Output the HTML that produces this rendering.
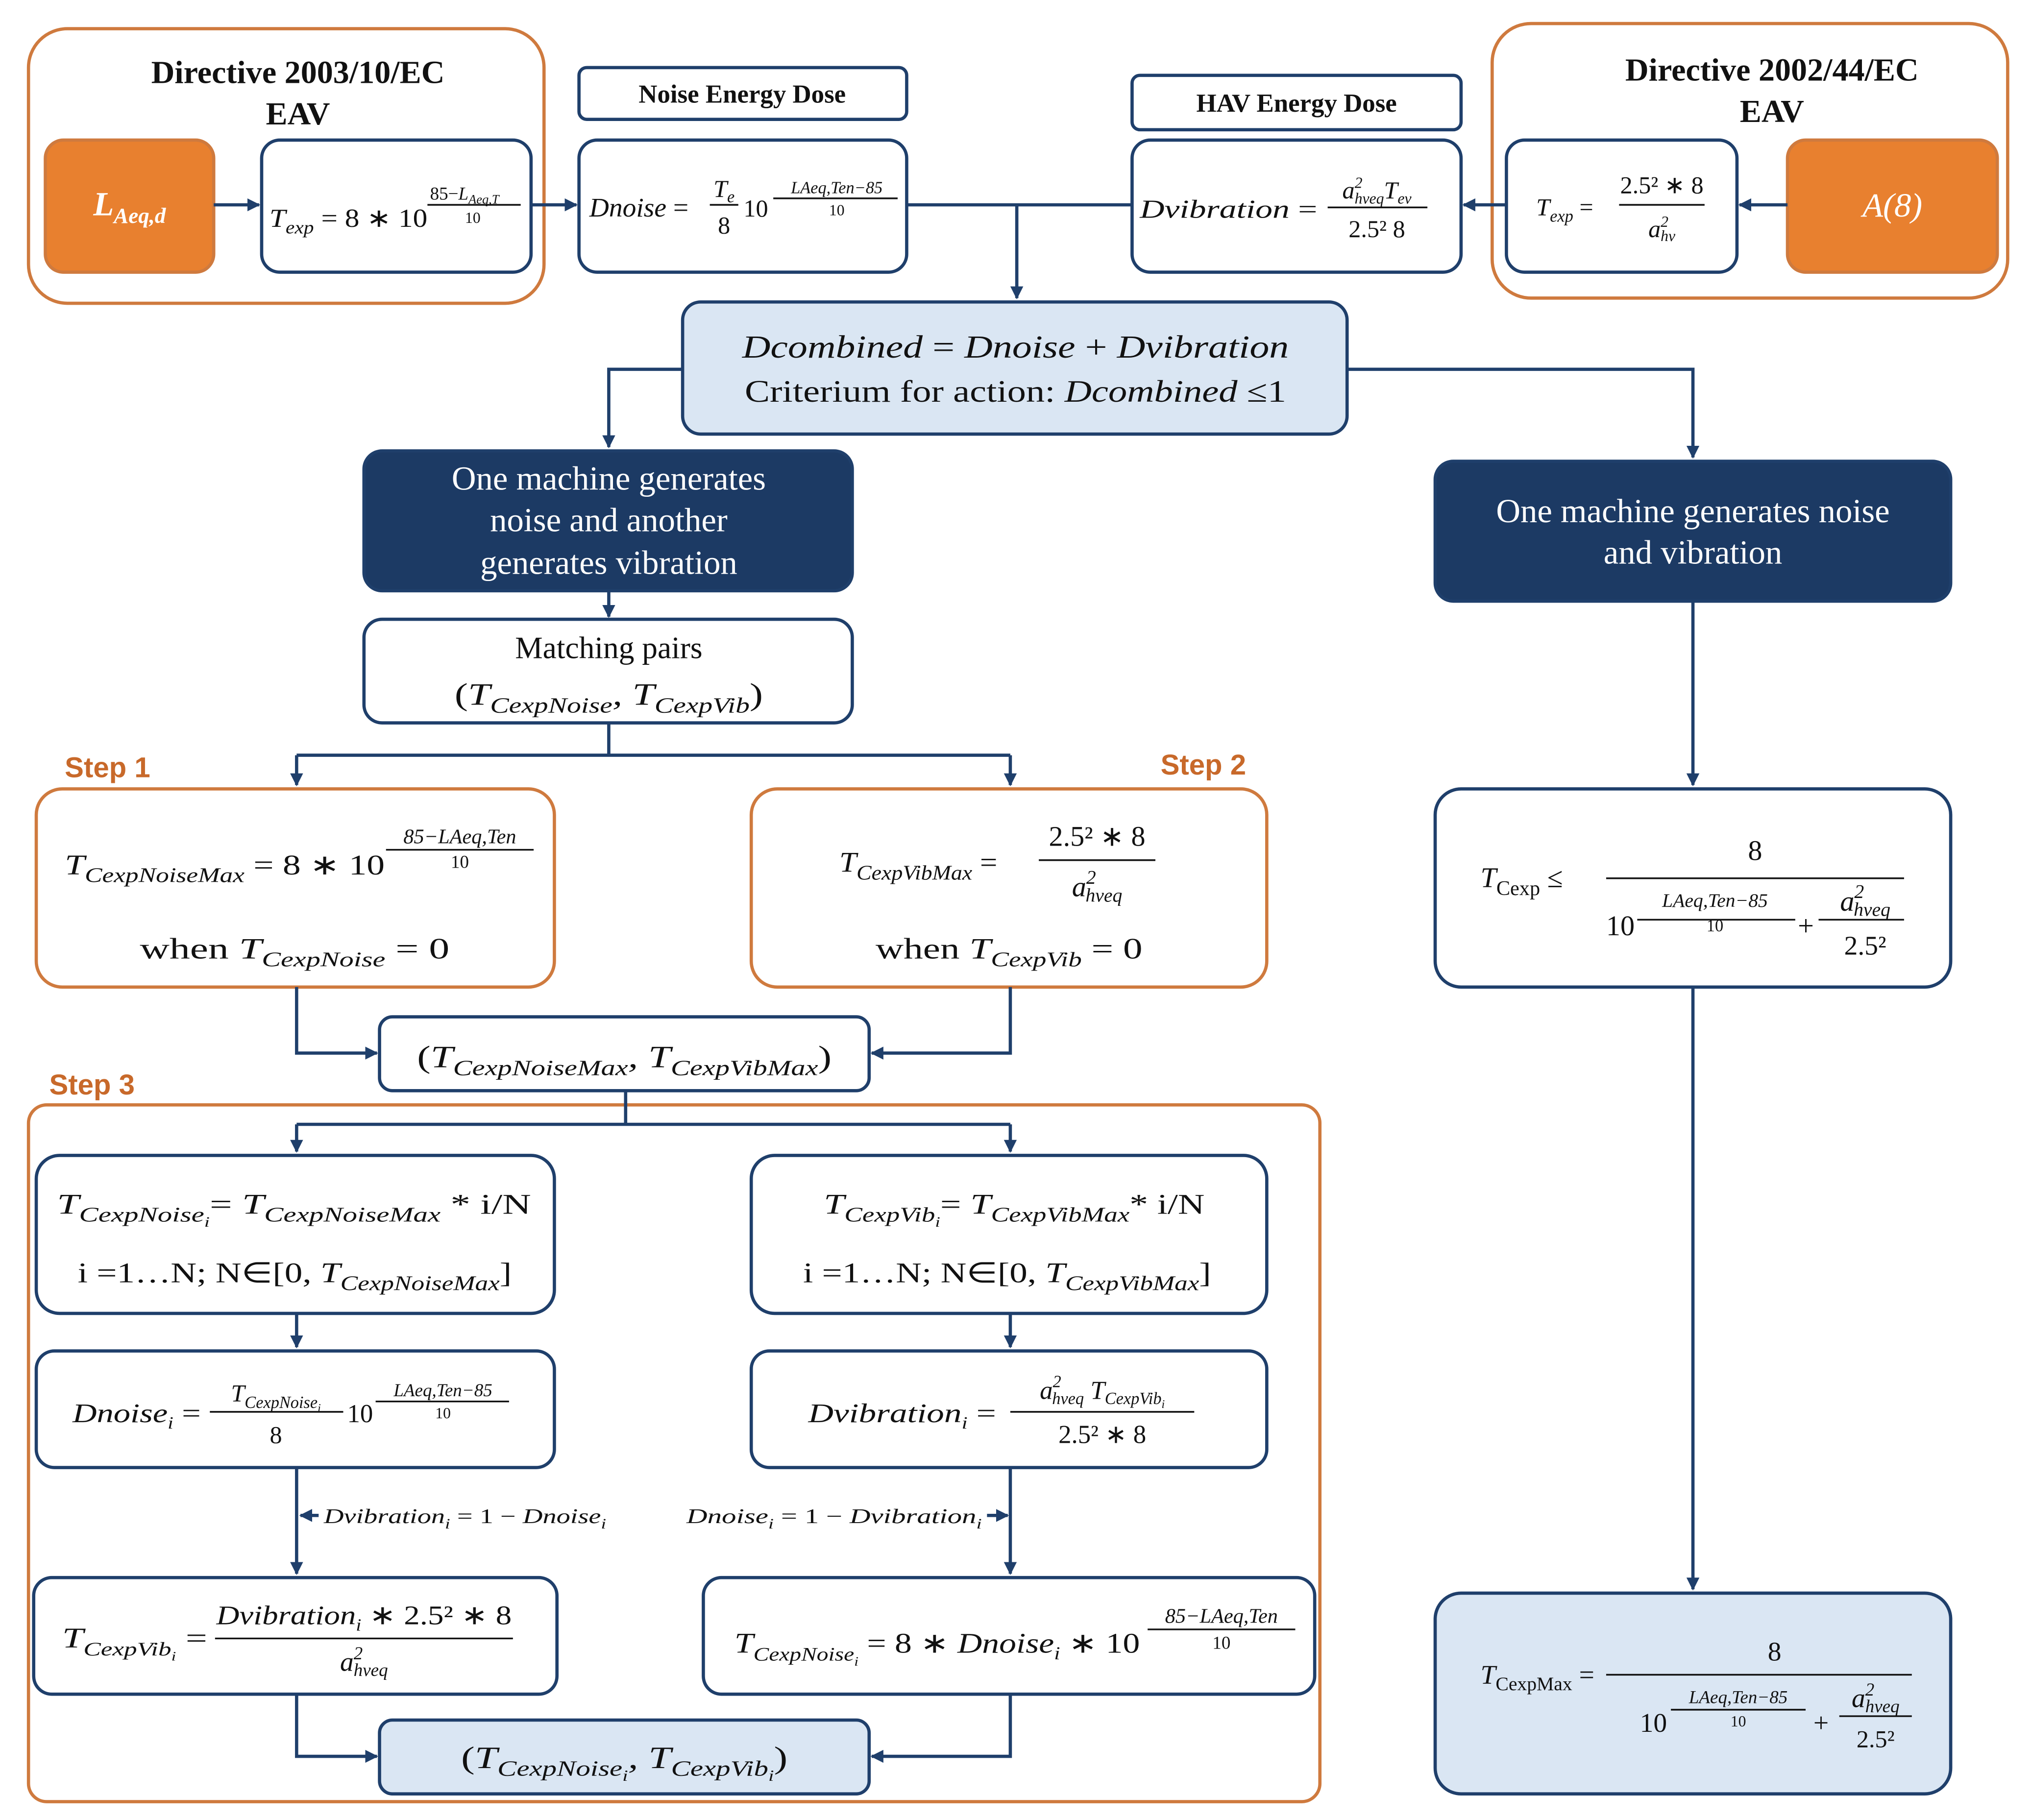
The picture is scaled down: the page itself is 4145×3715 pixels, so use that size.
<!DOCTYPE html>
<html><head><meta charset="utf-8"><style>
html,body{margin:0;padding:0;background:#fff}
svg{display:block}
text{font-family:"Liberation Serif",serif;fill:#111}
.i{font-style:italic}
.b{font-weight:bold}
text.w,.w text{fill:#fff}
text.o{fill:#c8692a;font-family:"Liberation Sans",sans-serif;font-weight:bold}
</style></head><body>
<svg width="4145" height="3715" viewBox="0 0 1568 1405" xmlns="http://www.w3.org/2000/svg">
<defs><marker id="a" markerWidth="10" markerHeight="10" refX="9" refY="5" orient="auto" markerUnits="userSpaceOnUse"><path d="M0,0 L10,5 L0,10 z" fill="#1f3f6b"/></marker></defs>
<g fill="none" stroke-width="2.5">
<rect x="22" y="22" width="398" height="212" rx="30" stroke="#cf7a3e"/>
<rect x="1152" y="18" width="398" height="212" rx="30" stroke="#cf7a3e"/>
<rect x="28" y="609" width="400" height="153" rx="20" stroke="#cf7a3e"/>
<rect x="580" y="609" width="398" height="153" rx="20" stroke="#cf7a3e"/>
<rect x="22" y="853" width="997" height="538" rx="14" stroke="#cf7a3e"/>
</g>
<g stroke="#1f3f6b" stroke-width="2.5">
<rect x="35" y="108" width="130" height="102" rx="14" fill="#e8802f" stroke="#cf7a3e"/>
<rect x="1380" y="108" width="162" height="102" rx="14" fill="#e8802f" stroke="#cf7a3e"/>
<rect x="202" y="108" width="208" height="102" rx="14" fill="#fff"/>
<rect x="447" y="52" width="253" height="40" rx="6" fill="#fff"/>
<rect x="447" y="108" width="253" height="102" rx="14" fill="#fff"/>
<rect x="874" y="58" width="254" height="42" rx="6" fill="#fff"/>
<rect x="874" y="108" width="254" height="102" rx="14" fill="#fff"/>
<rect x="1163" y="108" width="178" height="102" rx="14" fill="#fff"/>
<rect x="527" y="233" width="513" height="102" rx="14" fill="#dae6f3"/>
<rect x="281" y="348" width="377" height="108" rx="14" fill="#1c3a64"/>
<rect x="1108" y="356" width="398" height="108" rx="14" fill="#1c3a64"/>
<rect x="281" y="478" width="377" height="80" rx="14" fill="#fff"/>
<rect x="1108" y="609" width="398" height="153" rx="20" fill="#fff"/>
<rect x="293" y="785" width="378" height="57" rx="10" fill="#fff"/>
<rect x="28" y="892" width="400" height="122" rx="18" fill="#fff"/>
<rect x="580" y="892" width="398" height="122" rx="18" fill="#fff"/>
<rect x="28" y="1043" width="400" height="90" rx="14" fill="#fff"/>
<rect x="580" y="1043" width="398" height="90" rx="14" fill="#fff"/>
<rect x="26" y="1218" width="404" height="90" rx="14" fill="#fff"/>
<rect x="543" y="1218" width="472" height="90" rx="14" fill="#fff"/>
<rect x="293" y="1328" width="378" height="57" rx="10" fill="#dae6f3"/>
<rect x="1108" y="1230" width="398" height="155" rx="20" fill="#dae6f3"/>
</g>
<g stroke="#1f3f6b" stroke-width="2.5" fill="none">
<path d="M165,158 H200" marker-end="url(#a)"/>
<path d="M410,158 H445" marker-end="url(#a)"/>
<path d="M700,158 H874"/>
<path d="M785,158 V230" marker-end="url(#a)"/>
<path d="M1380,158 H1343" marker-end="url(#a)"/>
<path d="M1163,158 H1130" marker-end="url(#a)"/>
<path d="M527,285 H470 V345" marker-end="url(#a)"/>
<path d="M1040,285 H1307 V353" marker-end="url(#a)"/>
<path d="M470,456 V476" marker-end="url(#a)"/>
<path d="M470,558 V583 M229,583 H780"/>
<path d="M229,583 V606" marker-end="url(#a)"/>
<path d="M780,583 V606" marker-end="url(#a)"/>
<path d="M1307,464 V606" marker-end="url(#a)"/>
<path d="M229,762 V813 H291" marker-end="url(#a)"/>
<path d="M780,762 V813 H673" marker-end="url(#a)"/>
<path d="M483,842 V868 M229,868 H780"/>
<path d="M229,868 V889" marker-end="url(#a)"/>
<path d="M780,868 V889" marker-end="url(#a)"/>
<path d="M229,1014 V1040" marker-end="url(#a)"/>
<path d="M780,1014 V1040" marker-end="url(#a)"/>
<path d="M229,1133 V1215" marker-end="url(#a)"/>
<path d="M780,1133 V1215" marker-end="url(#a)"/>
<path d="M246,1170 H232" marker-end="url(#a)"/>
<path d="M762,1170 H778" marker-end="url(#a)"/>
<path d="M229,1308 V1356 H291" marker-end="url(#a)"/>
<path d="M780,1308 V1356 H673" marker-end="url(#a)"/>
<path d="M1307,762 V1227" marker-end="url(#a)"/>
</g>
<g stroke="#111" stroke-width="1.3">
<path d="M548,158 H570 M597,153 H693 M1025,160 H1102 M1250,158 H1316 M802,664 H892 M298,656 H412 M1240,678 H1470 M1264,710 H1386 M1404,710 H1470 M162,1090 H265 M290,1082 H393 M780,1090 H922 M166,1265 H396 M886,1258 H1000 M1240,1293 H1476 M1290,1320 H1394 M1420,1325 H1476 M330,158 H402"/>
</g>
<g class="b" font-size="25" text-anchor="middle">
<text x="230" y="64">Directive 2003/10/EC</text><text x="230" y="96">EAV</text>
<text x="1368" y="62">Directive 2002/44/EC</text><text x="1368" y="94">EAV</text>
</g>
<text x="573" y="79" class="b" font-size="20" text-anchor="middle">Noise Energy Dose</text>
<text x="1001" y="86" class="b" font-size="20" text-anchor="middle">HAV Energy Dose</text>
<text x="100" y="166" class="i b w" font-size="26" text-anchor="middle">L<tspan font-size="17" dy="6">Aeq,d</tspan></text>
<text x="1461" y="167" class="i w" font-size="26" text-anchor="middle">A(8)</text>
<text x="208" y="175" class="i" font-size="20" textLength="122" lengthAdjust="spacingAndGlyphs">T<tspan font-size="14" dy="5">exp</tspan><tspan dy="-5" font-style="normal"> = 8 ∗ 10</tspan></text>
<text x="332" y="154" font-size="14">85−<tspan class="i">L<tspan font-size="10" dy="3">Aeq,T</tspan></tspan></text>
<text x="365" y="172" font-size="12" text-anchor="middle">10</text>
<text x="455" y="167" class="i" font-size="21">Dnoise <tspan font-style="normal">=</tspan></text>
<text x="559" y="152" class="i" font-size="19" text-anchor="middle">T<tspan font-size="13" dy="4">e</tspan></text>
<text x="559" y="180" font-size="19" text-anchor="middle">8</text>
<text x="574" y="167" font-size="19">10</text>
<text x="646" y="149" class="i" font-size="13" text-anchor="middle">LAeq,Ten−85</text>
<text x="646" y="166" font-size="12" text-anchor="middle">10</text>
<text x="880" y="168" class="i" font-size="20" textLength="137" lengthAdjust="spacingAndGlyphs">Dvibration <tspan font-style="normal">=</tspan></text>
<text x="1063" y="153" class="i" font-size="19" text-anchor="middle">a<tspan font-size="12" dy="-8">2</tspan><tspan font-size="12" dx="-6" dy="12">hveq</tspan><tspan dy="-4">T</tspan><tspan font-size="12" dy="4">ev</tspan></text>
<text x="1063" y="183" font-size="19" text-anchor="middle">2.5² 8</text>
<text x="1186" y="166" class="i" font-size="19">T<tspan font-size="13" dy="5">exp</tspan><tspan dy="-5" font-style="normal"> =</tspan></text>
<text x="1283" y="149" font-size="19" text-anchor="middle">2.5² ∗ 8</text>
<text x="1283" y="183" class="i" font-size="19" text-anchor="middle">a<tspan font-size="12" dy="-8">2</tspan><tspan font-size="12" dx="-6" dy="11">hv</tspan></text>
<text x="784" y="276" class="i" font-size="25" text-anchor="middle" textLength="422" lengthAdjust="spacingAndGlyphs">Dcombined <tspan font-style="normal">=</tspan> Dnoise <tspan font-style="normal">+</tspan> Dvibration</text>
<text x="784" y="310" font-size="24" text-anchor="middle" textLength="418" lengthAdjust="spacingAndGlyphs">Criterium for action: <tspan class="i">Dcombined</tspan> ≤1</text>
<g class="w" font-size="26" text-anchor="middle">
<text x="470" y="378">One machine generates</text><text x="470" y="410">noise and another</text><text x="470" y="443">generates vibration</text>
<text x="1307" y="403">One machine generates noise</text><text x="1307" y="435">and vibration</text>
</g>
<text x="470" y="508" font-size="24" text-anchor="middle">Matching pairs</text>
<text x="470" y="544" font-size="24" text-anchor="middle" textLength="238" lengthAdjust="spacingAndGlyphs">(<tspan class="i">T<tspan font-size="17" dy="6">CexpNoise</tspan><tspan dy="-6">, T</tspan><tspan font-size="17" dy="6">CexpVib</tspan></tspan><tspan dy="-6">)</tspan></text>
<text x="50" y="600" class="o" font-size="22">Step 1</text>
<text x="896" y="598" class="o" font-size="22">Step 2</text>
<text x="38" y="845" class="o" font-size="22">Step 3</text>
<text x="50" y="675" class="i" font-size="22" textLength="247" lengthAdjust="spacingAndGlyphs">T<tspan font-size="16" dy="6">CexpNoiseMax</tspan><tspan dy="-6" font-style="normal"> = 8 ∗ 10</tspan></text>
<text x="355" y="651" class="i" font-size="16" text-anchor="middle">85−LAeq,Ten</text>
<text x="355" y="670" font-size="14" text-anchor="middle">10</text>
<text x="108" y="740" font-size="23" textLength="239" lengthAdjust="spacingAndGlyphs">when <tspan class="i">T<tspan font-size="16" dy="6">CexpNoise</tspan></tspan><tspan dy="-6"> =  0</tspan></text>
<text x="648" y="673" class="i" font-size="22" textLength="122" lengthAdjust="spacingAndGlyphs">T<tspan font-size="16" dy="6">CexpVibMax</tspan><tspan dy="-6" font-style="normal"> =</tspan></text>
<text x="847" y="653" font-size="22" text-anchor="middle">2.5² ∗ 8</text>
<text x="847" y="692" class="i" font-size="22" text-anchor="middle">a<tspan font-size="15" dy="-10">2</tspan><tspan font-size="15" dx="-8" dy="14">hveq</tspan></text>
<text x="676" y="740" font-size="23" textLength="206" lengthAdjust="spacingAndGlyphs">when <tspan class="i">T<tspan font-size="16" dy="6">CexpVib</tspan></tspan><tspan dy="-6"> =  0</tspan></text>
<text x="1143" y="685" class="i" font-size="22">T<tspan font-size="16" dy="6" font-style="normal">Cexp</tspan><tspan dy="-6" font-style="normal"> ≤</tspan></text>
<text x="1355" y="664" font-size="22" text-anchor="middle">8</text>
<text x="1240" y="722" font-size="22">10</text>
<text x="1324" y="700" class="i" font-size="15" text-anchor="middle">LAeq,Ten−85</text>
<text x="1324" y="719" font-size="13" text-anchor="middle">10</text>
<text x="1388" y="722" font-size="22">+</text>
<text x="1440" y="703" class="i" font-size="22" text-anchor="middle">a<tspan font-size="15" dy="-10">2</tspan><tspan font-size="15" dx="-8" dy="14">hveq</tspan></text>
<text x="1440" y="737" font-size="21" text-anchor="middle">2.5²</text>
<text x="482" y="824" font-size="24" text-anchor="middle" textLength="320" lengthAdjust="spacingAndGlyphs">(<tspan class="i">T<tspan font-size="17" dy="6">CexpNoiseMax</tspan><tspan dy="-6">, T</tspan><tspan font-size="17" dy="6">CexpVibMax</tspan></tspan><tspan dy="-6">)</tspan></text>
<text x="44" y="937" class="i" font-size="22" textLength="366" lengthAdjust="spacingAndGlyphs">T<tspan font-size="16" dy="6">CexpNoise<tspan font-size="11" dy="4">i</tspan></tspan><tspan dy="-10" font-style="normal">=  </tspan>T<tspan font-size="16" dy="6">CexpNoiseMax</tspan><tspan dy="-6" font-style="normal">   * i/N</tspan></text>
<text x="60" y="990" font-size="22" textLength="335" lengthAdjust="spacingAndGlyphs">i =1…N; N∈[0, <tspan class="i">T<tspan font-size="16" dy="6">CexpNoiseMax</tspan></tspan><tspan dy="-6">]</tspan></text>
<text x="636" y="937" class="i" font-size="22" textLength="294" lengthAdjust="spacingAndGlyphs">T<tspan font-size="16" dy="6">CexpVib<tspan font-size="11" dy="4">i</tspan></tspan><tspan dy="-10" font-style="normal">=  </tspan>T<tspan font-size="16" dy="6">CexpVibMax</tspan><tspan dy="-6" font-style="normal">* i/N</tspan></text>
<text x="620" y="990" font-size="22" textLength="315" lengthAdjust="spacingAndGlyphs">i =1…N; N∈[0, <tspan class="i">T<tspan font-size="16" dy="6">CexpVibMax</tspan></tspan><tspan dy="-6">]</tspan></text>
<text x="56" y="1098" class="i" font-size="21" textLength="99" lengthAdjust="spacingAndGlyphs">Dnoise<tspan font-size="13" dy="5">i</tspan><tspan dy="-5" font-style="normal"> =</tspan></text>
<text x="213" y="1082" class="i" font-size="19" text-anchor="middle">T<tspan font-size="13" dy="5">CexpNoise<tspan font-size="9" dy="3">i</tspan></tspan></text>
<text x="213" y="1114" font-size="19" text-anchor="middle">8</text>
<text x="268" y="1098" font-size="20">10</text>
<text x="342" y="1078" class="i" font-size="14" text-anchor="middle">LAeq,Ten−85</text>
<text x="342" y="1095" font-size="12" text-anchor="middle">10</text>
<text x="624" y="1098" class="i" font-size="21" textLength="145" lengthAdjust="spacingAndGlyphs">Dvibration<tspan font-size="13" dy="5">i</tspan><tspan dy="-5" font-style="normal"> =</tspan></text>
<text x="851" y="1080" class="i" font-size="20" text-anchor="middle">a<tspan font-size="13" dy="-9">2</tspan><tspan font-size="13" dx="-7" dy="13">hveq</tspan><tspan dy="-4"> T</tspan><tspan font-size="13" dy="4">CexpVib<tspan font-size="9" dy="3">i</tspan></tspan></text>
<text x="851" y="1114" font-size="20" text-anchor="middle">2.5² ∗ 8</text>
<text x="250" y="1176" class="i" font-size="16" textLength="218" lengthAdjust="spacingAndGlyphs">Dvibration<tspan font-size="11" dy="4">i</tspan><tspan dy="-4" font-style="normal"> = 1 − </tspan>Dnoise<tspan font-size="11" dy="4">i</tspan></text>
<text x="530" y="1176" class="i" font-size="16" textLength="228" lengthAdjust="spacingAndGlyphs">Dnoise<tspan font-size="11" dy="4">i</tspan><tspan dy="-4" font-style="normal">  =  1 −  </tspan>Dvibration<tspan font-size="11" dy="4">i</tspan></text>
<text x="48" y="1272" class="i" font-size="22" textLength="112" lengthAdjust="spacingAndGlyphs">T<tspan font-size="15" dy="6">CexpVib<tspan font-size="10" dy="4">i</tspan></tspan><tspan dy="-10" font-style="normal"> =</tspan></text>
<text x="281" y="1254" class="i" font-size="21" text-anchor="middle" textLength="228" lengthAdjust="spacingAndGlyphs">Dvibration<tspan font-size="13" dy="5">i</tspan><tspan dy="-5" font-style="normal"> ∗ 2.5² ∗ 8</tspan></text>
<text x="281" y="1290" class="i" font-size="21" text-anchor="middle">a<tspan font-size="14" dy="-9">2</tspan><tspan font-size="14" dx="-7" dy="13">hveq</tspan></text>
<text x="567" y="1276" class="i" font-size="22" textLength="313" lengthAdjust="spacingAndGlyphs">T<tspan font-size="15" dy="6">CexpNoise<tspan font-size="10" dy="4">i</tspan></tspan><tspan dy="-10" font-style="normal"> = 8 ∗ </tspan>Dnoise<tspan font-size="14" dy="5">i</tspan><tspan dy="-5" font-style="normal"> ∗ 10</tspan></text>
<text x="943" y="1253" class="i" font-size="16" text-anchor="middle">85−LAeq,Ten</text>
<text x="943" y="1273" font-size="14" text-anchor="middle">10</text>
<text x="482" y="1365" font-size="24" text-anchor="middle" textLength="252" lengthAdjust="spacingAndGlyphs">(<tspan class="i">T<tspan font-size="17" dy="6">CexpNoise<tspan font-size="12" dy="4">i</tspan></tspan><tspan dy="-10">, T</tspan><tspan font-size="17" dy="6">CexpVib<tspan font-size="12" dy="4">i</tspan></tspan></tspan><tspan dy="-10">)</tspan></text>
<text x="1143" y="1300" class="i" font-size="21">T<tspan font-size="15" dy="5" font-style="normal">CexpMax</tspan><tspan dy="-5" font-style="normal"> =</tspan></text>
<text x="1370" y="1282" font-size="21" text-anchor="middle">8</text>
<text x="1266" y="1337" font-size="21">10</text>
<text x="1342" y="1315" class="i" font-size="14" text-anchor="middle">LAeq,Ten−85</text>
<text x="1342" y="1333" font-size="12" text-anchor="middle">10</text>
<text x="1400" y="1337" font-size="21">+</text>
<text x="1448" y="1318" class="i" font-size="21" text-anchor="middle">a<tspan font-size="14" dy="-9">2</tspan><tspan font-size="14" dx="-7" dy="13">hveq</tspan></text>
<text x="1448" y="1349" font-size="19" text-anchor="middle">2.5²</text>
</svg>
</body></html>
